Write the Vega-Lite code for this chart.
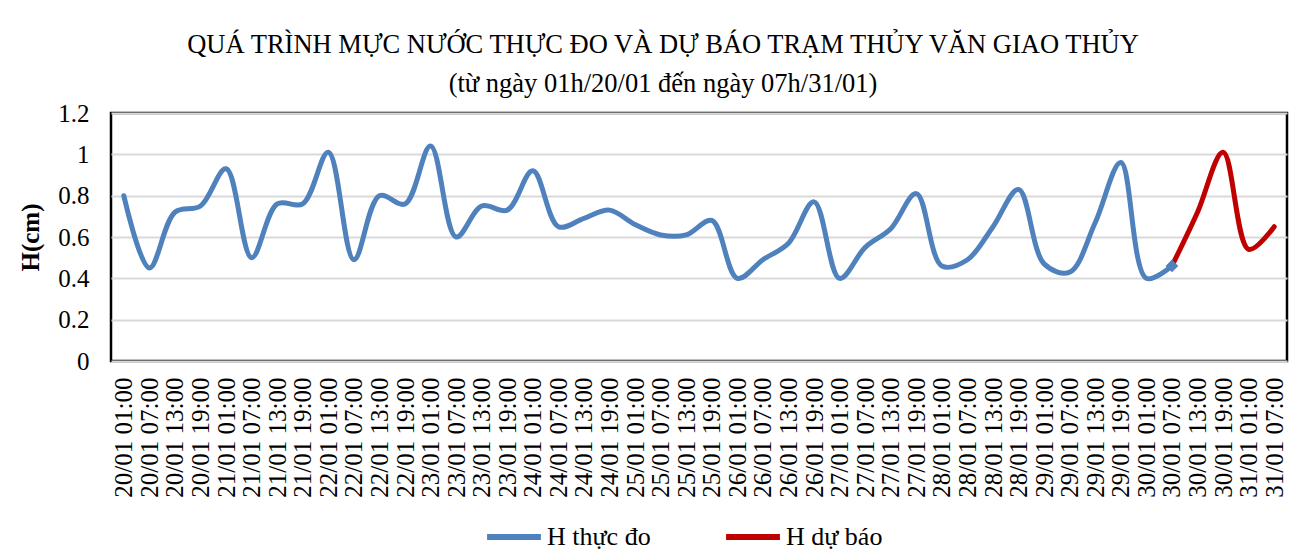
{
  "$schema": "https://vega.github.io/schema/vega-lite/v6.json",
  "width": 1176,
  "height": 248,
  "autosize": {"type": "none"},
  "padding": {"left": 111, "top": 113, "right": 28, "bottom": 193},
  "background": "white",
  "title": {
    "text": "QUÁ TRÌNH MỰC NƯỚC THỰC ĐO VÀ  DỰ BÁO TRẠM THỦY VĂN GIAO THỦY",
    "subtitle": "(từ ngày 01h/20/01  đến ngày 07h/31/01)",
    "font": "Liberation Serif",
    "fontSize": 26.5,
    "fontWeight": "normal",
    "color": "black",
    "subtitleFont": "Liberation Serif",
    "subtitleFontSize": 26.5,
    "subtitleColor": "black",
    "subtitlePadding": 12,
    "anchor": "middle",
    "dx": -36,
    "offset": 4
  },
  "data": {
    "values": [
      {"t": "20/01 01:00", "H": 0.80, "series": "H thực đo"},
      {"t": "20/01 07:00", "H": 0.45, "series": "H thực đo"},
      {"t": "20/01 13:00", "H": 0.72, "series": "H thực đo"},
      {"t": "20/01 19:00", "H": 0.75, "series": "H thực đo"},
      {"t": "21/01 01:00", "H": 0.93, "series": "H thực đo"},
      {"t": "21/01 07:00", "H": 0.50, "series": "H thực đo"},
      {"t": "21/01 13:00", "H": 0.76, "series": "H thực đo"},
      {"t": "21/01 19:00", "H": 0.76, "series": "H thực đo"},
      {"t": "22/01 01:00", "H": 1.01, "series": "H thực đo"},
      {"t": "22/01 07:00", "H": 0.49, "series": "H thực đo"},
      {"t": "22/01 13:00", "H": 0.80, "series": "H thực đo"},
      {"t": "22/01 19:00", "H": 0.76, "series": "H thực đo"},
      {"t": "23/01 01:00", "H": 1.04, "series": "H thực đo"},
      {"t": "23/01 07:00", "H": 0.60, "series": "H thực đo"},
      {"t": "23/01 13:00", "H": 0.75, "series": "H thực đo"},
      {"t": "23/01 19:00", "H": 0.73, "series": "H thực đo"},
      {"t": "24/01 01:00", "H": 0.92, "series": "H thực đo"},
      {"t": "24/01 07:00", "H": 0.65, "series": "H thực đo"},
      {"t": "24/01 13:00", "H": 0.69, "series": "H thực đo"},
      {"t": "24/01 19:00", "H": 0.73, "series": "H thực đo"},
      {"t": "25/01 01:00", "H": 0.66, "series": "H thực đo"},
      {"t": "25/01 07:00", "H": 0.61, "series": "H thực đo"},
      {"t": "25/01 13:00", "H": 0.61, "series": "H thực đo"},
      {"t": "25/01 19:00", "H": 0.68, "series": "H thực đo"},
      {"t": "26/01 01:00", "H": 0.40, "series": "H thực đo"},
      {"t": "26/01 07:00", "H": 0.49, "series": "H thực đo"},
      {"t": "26/01 13:00", "H": 0.57, "series": "H thực đo"},
      {"t": "26/01 19:00", "H": 0.77, "series": "H thực đo"},
      {"t": "27/01 01:00", "H": 0.40, "series": "H thực đo"},
      {"t": "27/01 07:00", "H": 0.55, "series": "H thực đo"},
      {"t": "27/01 13:00", "H": 0.64, "series": "H thực đo"},
      {"t": "27/01 19:00", "H": 0.81, "series": "H thực đo"},
      {"t": "28/01 01:00", "H": 0.46, "series": "H thực đo"},
      {"t": "28/01 07:00", "H": 0.49, "series": "H thực đo"},
      {"t": "28/01 13:00", "H": 0.65, "series": "H thực đo"},
      {"t": "28/01 19:00", "H": 0.83, "series": "H thực đo"},
      {"t": "29/01 01:00", "H": 0.47, "series": "H thực đo"},
      {"t": "29/01 07:00", "H": 0.43, "series": "H thực đo"},
      {"t": "29/01 13:00", "H": 0.67, "series": "H thực đo"},
      {"t": "29/01 19:00", "H": 0.96, "series": "H thực đo"},
      {"t": "30/01 01:00", "H": 0.40, "series": "H thực đo"},
      {"t": "30/01 07:00", "H": 0.46, "series": "H thực đo"},
      {"t": "30/01 07:00", "H": 0.46, "series": "H dự báo"},
      {"t": "30/01 13:00", "H": 0.72, "series": "H dự báo"},
      {"t": "30/01 19:00", "H": 1.01, "series": "H dự báo"},
      {"t": "31/01 01:00", "H": 0.54, "series": "H dự báo"},
      {"t": "31/01 07:00", "H": 0.65, "series": "H dự báo"}
    ]
  },
  "encoding": {
    "x": {
      "field": "t",
      "type": "ordinal",
      "sort": null,
      "scale": {"type": "point", "padding": 0.5},
      "axis": {
        "title": null,
        "labelAngle": -90,
        "labelAlign": "right",
        "labelBaseline": "middle",
        "labelFont": "Liberation Serif",
        "labelFontSize": 25,
        "labelColor": "black",
        "labelPadding": 16,
        "ticks": false,
        "domain": false,
        "grid": false,
        "labelOverlap": false
      }
    },
    "y": {
      "field": "H",
      "type": "quantitative",
      "scale": {"domain": [0, 1.2], "nice": false},
      "axis": {
        "title": "H(cm)",
        "titleFont": "Liberation Serif",
        "titleFontSize": 25,
        "titleFontWeight": "bold",
        "titleColor": "black",
        "titlePadding": 14,
        "values": [0, 0.2, 0.4, 0.6, 0.8, 1, 1.2],
        "format": "~g",
        "labelFont": "Liberation Serif",
        "labelFontSize": 25,
        "labelColor": "black",
        "labelPadding": 22,
        "ticks": false,
        "domain": false,
        "grid": true,
        "gridColor": "#d9d9d9",
        "gridWidth": 2
      }
    }
  },
  "layer": [
    {
      "mark": {"type": "line", "interpolate": "catmull-rom", "strokeWidth": 5, "strokeCap": "round"},
      "encoding": {
        "color": {
          "field": "series",
          "type": "nominal",
          "scale": {"domain": ["H thực đo", "H dự báo"], "range": ["#4F81BD", "#C00000"]},
          "legend": {
            "title": null,
            "orient": "none",
            "legendX": 373,
            "legendY": 394,
            "direction": "horizontal",
            "symbolType": "stroke",
            "symbolSize": 2900,
            "symbolStrokeWidth": 6,
            "labelFont": "Liberation Serif",
            "labelFontSize": 26,
            "labelColor": "black",
            "labelOffset": 3,
            "columnPadding": 63
          }
        }
      }
    },
    {
      "transform": [{"filter": "datum.t == '30/01 07:00' && datum.series == 'H thực đo'"}],
      "mark": {"type": "point", "shape": "diamond", "filled": true, "size": 160, "color": "#4F81BD", "opacity": 1}
    }
  ],
  "config": {
    "view": {"stroke": "black", "strokeWidth": 2.5}
  }
}
